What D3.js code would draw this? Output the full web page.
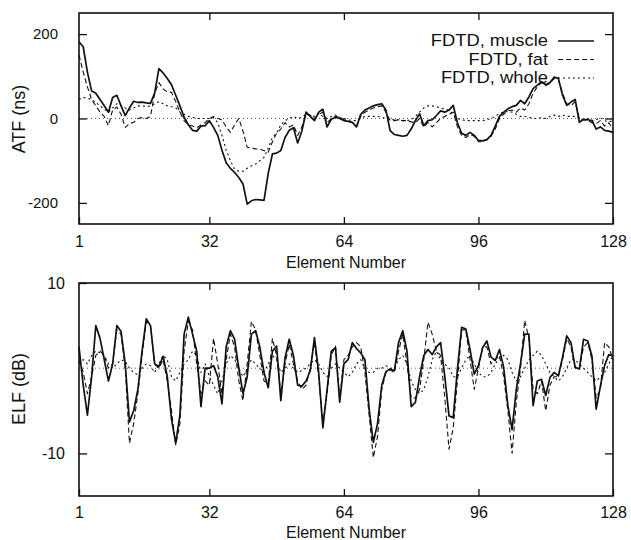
<!DOCTYPE html>
<html><head><meta charset="utf-8">
<script src="https://cdn.jsdelivr.net/npm/d3@7"></script>
<style>body{margin:0;background:#fff}svg{display:block}</style>
</head><body>
<svg id="c" width="631" height="540"></svg>
<script>
// ---------- data ----------
const elements = d3.range(1, 129);              // element numbers 1..128
const xTicks = [1, 32, 64, 96, 128];
const atfTicks = [200, 0, -200];
const elfTicks = [10, -10];
const legendLabels = ["FDTD, muscle", "FDTD, fat", "FDTD, whole"];

const atfMuscle = [182,170,110,65,60,45,30,15,50,55,
  30,7,25,41,38,39,37,36,60,118,
  108,95,80,55,30,3,-15,-28,-30,-18,
  -17,-5,-21,-40,-75,-105,-118,-128,-140,-155,
  -203,-195,-192,-193,-194,-130,-84,-82,-76,-45,
  -28,-22,-58,-30,15,5,-5,15,22,-20,
  -2,3,0,-5,-7,-9,-20,10,20,25,
  30,33,35,20,-29,-38,-40,-42,-40,-25,
  -5,11,-17,-5,-3,7,18,15,20,31,
  -10,-35,-40,-33,-40,-52,-53,-50,-40,-18,
  5,15,23,28,31,43,35,51,71,79,
  87,80,85,98,95,55,31,39,45,-9,
  -2,-3,-5,-25,-20,-28,-30,-33];
const atfFat = [150,110,75,45,30,15,5,-17,20,27,
  10,-21,-12,-9,0,2,0,5,60,85,
  70,63,62,40,15,-5,-15,-18,-22,-15,
  -10,0,5,0,-3,-20,-33,-15,0,-30,
  -68,-70,-72,-73,-76,-80,-55,-35,-25,-10,
  -20,-15,-40,-20,10,8,0,10,15,-10,
  0,5,3,-3,-5,-10,-18,5,15,20,
  25,28,30,15,-5,-5,-3,-5,-5,-8,
  -10,0,-20,-10,-20,-10,0,5,10,15,
  -20,-40,-45,-38,-42,-55,-55,-50,-42,-25,
  0,10,18,20,15,25,20,35,60,75,
  85,78,83,95,92,60,35,30,40,0,
  -3,-5,-10,-12,-5,-18,-10,-25];
const atfWhole = [45,50,48,45,38,30,22,15,25,35,
  30,25,20,25,30,30,28,30,35,40,
  35,30,28,25,15,10,5,3,0,0,
  0,0,2,-10,-40,-75,-100,-120,-125,-125,
  -118,-112,-108,-100,-92,-70,-45,-35,-15,-5,
  0,5,0,3,10,8,5,12,5,0,
  5,8,3,0,-3,-5,-5,0,5,5,
  5,5,3,0,-2,-3,-3,-5,-5,-3,
  5,15,25,30,30,28,25,22,20,10,
  0,-3,-5,-5,-5,-5,-5,-3,0,5,
  12,15,18,15,10,5,5,3,0,0,
  2,0,5,8,5,8,5,5,5,0,
  -3,0,-5,-3,2,-5,-8,-5];

const elfMuscle = [2.5,-2.0,-5.5,-1.0,5.0,3.5,1.0,-1.5,0.5,5.0,
  4.3,0.5,-6.3,-5.0,-2.5,2.0,5.8,5.0,0.5,0.2,
  1.4,-1.0,-6.0,-8.8,-5.5,4.0,6.0,4.0,2.0,-4.5,
  0.0,0.0,0.3,-1.0,-4.2,2.5,4.4,3.4,0.0,-3.0,
  -1.0,4.0,4.4,2.5,-0.5,-2.3,2.0,2.6,-3.8,1.2,
  3.4,1.5,-2.0,-2.1,-1.5,-0.3,3.6,-0.5,-7.0,-2.5,
  2.0,2.4,-4.0,0.5,1.0,3.0,2.3,1.8,1.0,-4.8,
  -8.7,-6.5,-2.0,-0.4,-0.1,-0.3,3.0,4.4,2.0,-4.5,
  -4.0,-1.0,1.5,2.2,1.6,2.5,3.0,-1.0,-5.6,-5.8,
  -0.1,4.8,4.6,2.2,-0.7,0.3,2.4,3.2,1.3,0.9,
  2.2,0.1,-4.4,-7.2,-2.5,0.5,4.0,4.0,-4.4,-1.5,
  -1.3,-3.2,-1.1,-0.5,-0.9,1.3,3.8,3.0,0.1,-0.1,
  3.4,3.2,1.4,-4.8,-2.1,0.3,1.6,1.4];
const elfFat = [1.0,-0.5,-3.0,-1.0,1.5,2.0,1.5,0.0,0.5,4.5,
  4.0,0.0,-8.8,-6.5,-3.0,1.5,5.5,5.0,0.5,0.0,
  1.0,-1.5,-5.0,-9.0,-6.5,2.0,5.5,4.5,0.5,-3.0,
  -1.5,-2.0,3.5,0.5,-3.0,1.0,4.0,2.5,-1.5,-3.8,
  0.5,5.5,4.5,1.5,-1.5,-1.8,3.5,1.5,-3.0,0.5,
  2.8,0.5,-1.5,-2.5,-2.0,0.0,3.0,-1.0,-6.5,-3.0,
  1.5,2.6,-3.5,1.0,1.5,2.5,3.0,2.5,-0.5,-5.5,
  -10.5,-8.0,-2.5,-0.5,-0.2,-0.5,2.0,4.0,0.5,-3.5,
  -3.5,-2.5,1.0,5.4,4.0,2.0,1.5,-3.5,-9.5,-7.0,
  -1.5,4.5,4.5,1.0,-2.5,0.0,2.5,2.5,0.5,1.0,
  1.5,-1.0,-5.0,-10.0,-4.0,0.0,5.6,3.5,-2.5,-3.0,
  -1.5,-5.0,-2.0,-1.0,-1.0,1.0,3.5,2.5,0.0,0.0,
  2.5,3.0,1.0,-3.5,-2.5,3.0,2.5,1.0];
const elfWhole = [0.5,1.0,0.5,1.5,2.0,1.8,1.5,0.5,0.0,0.5,
  1.0,0.8,0.0,-0.5,-0.8,0.0,0.5,0.3,-0.5,0.5,
  1.5,1.0,-1.0,-1.5,-0.5,0.5,1.0,2.0,1.5,-0.5,
  0.5,-1.0,-2.0,-3.0,-1.5,0.5,1.5,1.0,0.0,-1.0,
  0.0,1.0,0.5,0.0,-0.5,0.5,1.5,1.0,-0.5,0.0,
  0.5,0.0,-0.5,-0.3,0.0,0.5,1.0,0.5,-0.5,-1.0,
  0.0,0.5,0.0,-0.5,-1.0,-0.5,0.5,1.0,0.0,-0.5,
  -0.5,0.0,0.0,0.3,0.0,0.0,1.0,1.5,0.5,-1.5,
  -2.5,-3.0,-2.5,-1.0,1.0,2.0,1.0,0.5,0.0,-1.0,
  -1.0,0.0,1.0,1.5,0.5,-0.5,-1.0,-1.0,-0.5,0.5,
  1.2,1.5,1.0,-0.5,-1.5,-1.0,0.0,1.0,1.5,2.0,
  1.5,0.5,-0.5,-1.0,-1.5,-1.0,0.0,1.0,1.0,0.5,
  0.0,-0.5,-1.0,-1.5,-1.0,-0.5,0.5,1.5];

// ---------- drawing ----------
const FONT = "'Liberation Sans', Arial, Helvetica, sans-serif";
const svg = d3.select('#c');
const x = d3.scaleLinear().domain([1, 128]).range([79, 613]);
const plain = d => String(d);   // hyphen-minus, as in the original

const styles = [
  {width: 1.7, dash: null},
  {width: 1.1, dash: "5,3"},
  {width: 1.1, dash: "2,3"}
];

function panel(cfg) {
  const y = d3.scaleLinear().domain(cfg.domain).range([cfg.bottom, cfg.top]);
  const g = svg.append('g');

  // zero line
  g.append('line')
    .attr('x1', x(1)).attr('x2', x(128))
    .attr('y1', y(0)).attr('y2', y(0))
    .attr('stroke', '#333').attr('stroke-width', 0.8)
    .attr('stroke-dasharray', '1,3');

  // series
  const line = d3.line().x((d, i) => x(elements[i])).y(d => y(d));
  cfg.series.forEach((vals, k) => {
    g.append('path').datum(vals)
      .attr('d', line)
      .attr('fill', 'none')
      .attr('stroke', '#111')
      .attr('stroke-width', styles[k].width)
      .attr('stroke-dasharray', styles[k].dash)
      .attr('stroke-linejoin', 'round');
  });

  // axes
  const bx = g.append('g').attr('transform', `translate(0,${cfg.bottom})`)
    .call(d3.axisBottom(x).tickValues(xTicks).tickFormat(plain).tickSizeInner(-7).tickSizeOuter(0).tickPadding(cfg.xPad));
  const tx = g.append('g').attr('transform', `translate(0,${cfg.top})`)
    .call(d3.axisTop(x).tickValues([32, 64, 96]).tickSizeInner(-7).tickSizeOuter(0).tickFormat(''));
  const ly = g.append('g').attr('transform', `translate(${x(1)},0)`)
    .call(d3.axisLeft(y).tickValues(cfg.yTicks).tickFormat(plain).tickSizeInner(-8).tickSizeOuter(0).tickPadding(cfg.yPad));
  const ry = g.append('g').attr('transform', `translate(${x(128)},0)`)
    .call(d3.axisRight(y).tickValues(cfg.rTicks).tickSizeInner(-8).tickSizeOuter(0).tickFormat(''));
  [bx, tx, ly, ry].forEach(a => {
    a.select('.domain').remove();
    a.selectAll('line').attr('stroke', '#111').attr('stroke-width', 1.3);
    a.selectAll('text').attr('fill', '#111').style('font-family', FONT);
  });
  bx.selectAll('text').style('font-size', cfg.xFs + 'px');
  ly.selectAll('text').style('font-size', cfg.yFs + 'px');

  // frame
  g.append('rect')
    .attr('x', x(1)).attr('y', cfg.top)
    .attr('width', x(128) - x(1)).attr('height', cfg.bottom - cfg.top)
    .attr('fill', 'none').attr('stroke', '#111').attr('stroke-width', 1.6);

  // axis titles
  g.append('text').text('Element Number')
    .attr('x', (x(1) + x(128)) / 2).attr('y', cfg.xTitleY)
    .attr('text-anchor', 'middle')
    .style('font-family', FONT).style('font-size', '16px').attr('fill', '#111');
  g.append('text').text(cfg.yTitle)
    .attr('transform', `translate(25,${cfg.yTitleC}) rotate(-90)`)
    .attr('text-anchor', 'middle')
    .style('font-family', FONT).style('font-size', '18px').attr('fill', '#111');
  return {g, y};
}

const atfPanel = panel({
  top: 13, bottom: 224, domain: [-250, 250],
  series: [atfMuscle, atfFat, atfWhole],
  yTicks: atfTicks, rTicks: atfTicks, yPad: 21, yFs: 15,
  xPad: 12, xFs: 16, xTitleY: 268,
  yTitle: 'ATF (ns)', yTitleC: 119
});
const elfPanel = panel({
  top: 283, bottom: 496, domain: [-15, 10],
  series: [elfMuscle, elfFat, elfWhole],
  yTicks: elfTicks, rTicks: [-10], yPad: 14, yFs: 16,
  xPad: 11, xFs: 16, xTitleY: 538,
  yTitle: 'ELF (dB)', yTitleC: 389
});

// legend
const leg = svg.append('g');
legendLabels.forEach((lab, k) => {
  const by = 46 + k * 18.5;
  leg.append('text').text(lab)
    .attr('transform', `translate(548,${by}) scale(1.08,1)`)
    .attr('text-anchor', 'end')
    .style('font-family', FONT).style('font-size', '17px').attr('fill', '#111');
  leg.append('line')
    .attr('x1', 558).attr('x2', 594)
    .attr('y1', by - 5).attr('y2', by - 5)
    .attr('stroke', '#111')
    .attr('stroke-width', styles[k].width)
    .attr('stroke-dasharray', styles[k].dash);
});
</script>
</body></html>
